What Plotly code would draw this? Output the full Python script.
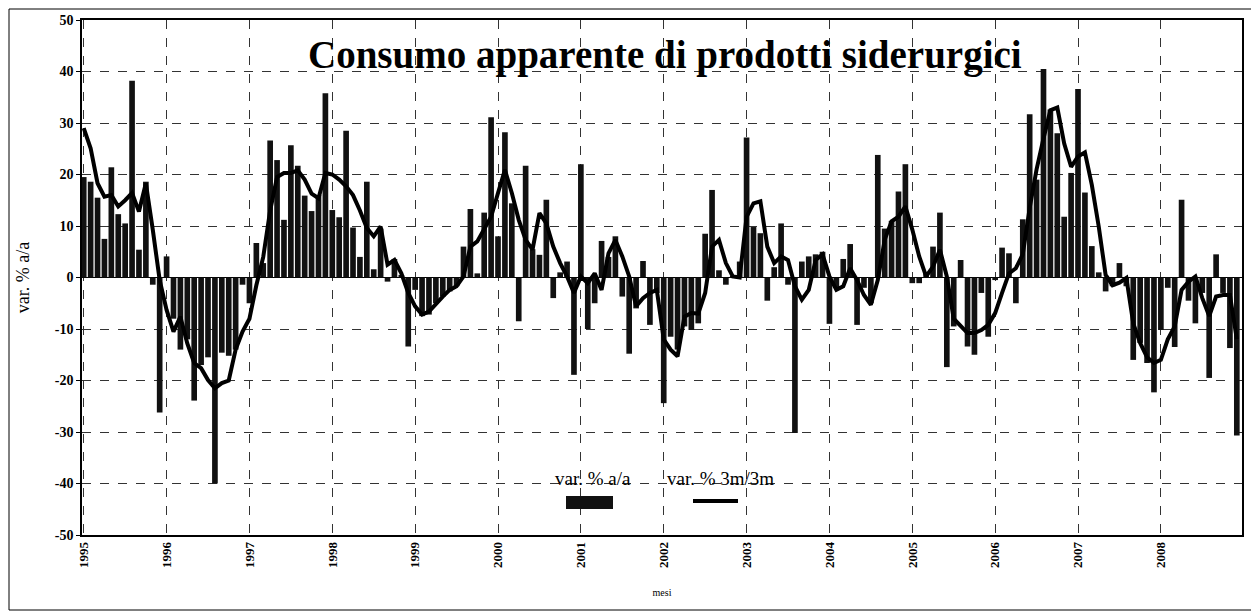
import plotly.graph_objects as go

years = list(range(1995, 2009))
months = [f"{y}-{m:02d}" for y in years for m in range(1, 13)]
tick_vals = [f"{y}-01" for y in years]
tick_text = [str(y) for y in years]

# var. % a/a (monthly bars)
var_aa = [
    19.5, 18.6, 15.5, 7.5, 21.4, 12.3, 10.5, 38.2, 5.4, 18.6, -1.4, -26.2,      # 1995
    4.1, -8.0, -14.0, -12.0, -23.9, -17.0, -15.5, -40.0, -14.6, -15.2, -14.0, -1.4,  # 1996
    -5.0, 6.7, 2.8, 26.6, 22.8, 11.2, 25.7, 21.7, 15.9, 12.9, 16.0, 35.8,      # 1997
    13.1, 11.7, 28.5, 9.7, 4.0, 18.6, 1.6, 9.5, -0.8, 3.6, 0.5, -13.4,         # 1998
    -2.4, -7.5, -7.2, -5.0, -3.7, -2.7, -1.7, 6.0, 13.3, 0.8, 12.6, 31.1,      # 1999
    8.0, 28.2, 14.4, -8.5, 21.7, 5.5, 4.4, 15.1, -4.0, 1.0, 3.1, -18.9,        # 2000
    22.0, -10.0, -5.0, 7.1, 4.0, 8.0, -3.7, -14.8, -6.0, 3.2, -9.2, -3.0,      # 2001
    -24.4, -11.5, -14.0, -9.5, -10.2, -8.9, 8.5, 17.0, 1.4, -1.4, 0.3, 3.1,    # 2002
    27.2, 9.8, 8.6, -4.5, 2.0, 10.5, -1.4, -30.2, 3.1, 4.1, 4.5, 5.0,          # 2003
    -9.0, -2.0, 3.6, 6.5, -9.2, -2.0, -5.0, 23.8, 9.5, 11.0, 16.7, 22.0,       # 2004
    -1.1, -1.1, 1.0, 6.0, 12.6, -17.4, -9.5, 3.4, -13.4, -15.0, -3.0, -11.5,   # 2005
    -0.5, 5.8, 4.7, -5.0, 11.3, 31.7, 19.0, 40.5, 32.6, 28.0, 11.8, 20.3,      # 2006
    36.6, 16.5, 6.1, 1.0, -2.7, -1.7, 2.8, -1.7, -16.0, -12.7, -16.6, -22.3,   # 2007
    -10.2, -2.0, -13.5, 15.1, -4.5, -8.9, -3.0, -19.5, 4.5, -3.0, -13.7, -30.7,  # 2008
]

# var. % 3m/3m (line)
var_3m = [
    29.0, 25.1, 18.3, 15.7, 16.0, 13.8, 15.0, 16.4, 12.8, 18.3, 9.3, -0.5,     # 1995
    -6.3, -10.5, -7.6, -12.8, -16.6, -17.6, -19.9, -21.5, -20.5, -20.0, -14.0, -10.5,  # 1996
    -8.0, -1.5, 4.0, 13.0, 19.5, 20.3, 20.3, 20.8, 19.0, 16.3, 15.4, 20.3,     # 1997
    20.0, 19.0, 17.7, 16.0, 13.0, 9.6, 8.0, 9.9, 2.5, 3.4, 0.8, -3.0,          # 1998
    -5.6, -7.2, -6.6, -5.0, -3.7, -2.4, -1.7, 0.2, 6.0, 7.0, 9.3, 11.8,        # 1999
    16.4, 20.9, 16.4, 11.2, 7.3, 5.4, 12.5, 10.5, 6.0, 2.8, 0.2, -3.0,         # 2000
    0.2, -1.1, 0.8, -2.4, 4.7, 7.3, 4.1, 0.2, -5.6, -4.0, -3.0, -2.4,          # 2001
    -12.0, -14.0, -15.3, -7.6, -6.9, -7.0, -3.0, 6.0, 7.3, 2.8, 0.2, 0.0,      # 2002
    11.8, 14.4, 14.8, 6.0, 2.8, 4.1, 3.4, -1.7, -4.3, -2.4, 3.4, 4.5,          # 2003
    0.2, -2.4, -1.7, 1.8, -0.5, -3.4, -5.3, -0.5, 7.3, 10.9, 11.8, 13.8,       # 2004
    9.3, 4.1, 0.2, 2.1, 5.4, 0.2, -8.0, -9.5, -10.8, -10.8, -10.2, -9.2,       # 2005
    -6.9, -3.0, 0.8, 1.8, 4.5, 13.5, 21.0, 27.0, 32.5, 33.0, 26.0, 21.5,       # 2006
    23.5, 24.3, 18.0, 9.9, 0.5, -1.5, -1.0, -0.1, -8.9, -12.7, -15.5, -16.6,   # 2007
    -16.0, -12.0, -9.5, -2.4, -0.8, 0.2, -4.0, -7.5, -3.7, -3.4, -3.4, -12.0,  # 2008
]

y_ticks = list(range(-50, 51, 10))

SERIF = "Liberation Serif, Times New Roman, serif"

# page has an 8px body margin: figure is placed at (8, 8)
OFF = 8
W, H = 1259 - OFF, 615 - OFF
# plot area in reference-page pixels
L, R, T, B = 82, 1242, 20, 535

def px(xp):
    return (xp - L) / (R - L)

def py(yp):
    return (B - yp) / (B - T)

fig = go.Figure()
fig.add_trace(go.Bar(
    x=months, y=var_aa, name="var. % a/a",
    marker=dict(color="#111111", line=dict(width=0)),
    showlegend=False,
))
fig.add_trace(go.Scatter(
    x=months, y=var_3m, name="var. % 3m/3m", mode="lines",
    line=dict(color="#000000", width=4),
    showlegend=False,
))

fig.update_layout(
    width=W, height=H,
    margin=dict(l=L - OFF, r=1259 - R, t=T - OFF, b=615 - B, autoexpand=False),
    paper_bgcolor="white", plot_bgcolor="white",
    bargap=0.18,
    font=dict(family=SERIF, color="black"),
    xaxis=dict(
        type="category", categoryorder="array", categoryarray=months,
        range=[-0.25, len(months) - 0.25], automargin=False,
        tickmode="array", tickvals=tick_vals, ticktext=tick_text,
        tickangle=-90, tickfont=dict(family=SERIF, size=13, color="black", weight="bold"),
        showgrid=True, gridcolor="#333333", griddash="dash", gridwidth=1,
        showline=True, linecolor="black", linewidth=1.5, mirror=True,
        ticks="", zeroline=False,
        title=dict(text="mesi", font=dict(family=SERIF, size=10), standoff=22),
    ),
    yaxis=dict(
        range=[-50, 50], tickmode="array", tickvals=y_ticks, automargin=False,
        ticktext=[str(v) for v in y_ticks],
        tickfont=dict(family=SERIF, size=14, color="black", weight="bold"),
        showgrid=True, gridcolor="#333333", griddash="dash", gridwidth=1,
        zeroline=True, zerolinecolor="black", zerolinewidth=1.2,
        showline=True, linecolor="black", linewidth=1.5, mirror=True,
        ticks="outside", ticklen=4, tickcolor="black",
        title=dict(text="var. % a/a", font=dict(family=SERIF, size=18), standoff=20),
    ),
)

# Title inside plot area
fig.add_annotation(
    x=px(665), y=py(55), xref="paper", yref="paper",
    text="<b>Consumo apparente di prodotti siderurgici</b>",
    showarrow=False, font=dict(family=SERIF, size=39, color="black"),
    xanchor="center", yanchor="middle",
)

# Legend (text above key, Excel style)
fig.add_annotation(
    x=px(593), y=py(478), xref="paper", yref="paper", text="var. % a/a",
    showarrow=False, font=dict(family=SERIF, size=19), xanchor="center", yanchor="middle",
)
fig.add_annotation(
    x=px(720), y=py(478), xref="paper", yref="paper", text="var. % 3m/3m",
    showarrow=False, font=dict(family=SERIF, size=19), xanchor="center", yanchor="middle",
)
fig.add_shape(type="rect", xref="paper", yref="paper",
              x0=px(566), x1=px(613), y0=py(509), y1=py(496),
              fillcolor="#111111", line=dict(width=0))
fig.add_shape(type="line", xref="paper", yref="paper",
              x0=px(693), x1=px(738), y0=py(501), y1=py(501),
              line=dict(color="black", width=4))

# outer frame of the chart
fig.add_shape(type="rect", xref="paper", yref="paper",
              x0=px(9), x1=px(1254), y0=py(610), y1=py(9),
              line=dict(color="black", width=1))

fig.write_html("out.html")
